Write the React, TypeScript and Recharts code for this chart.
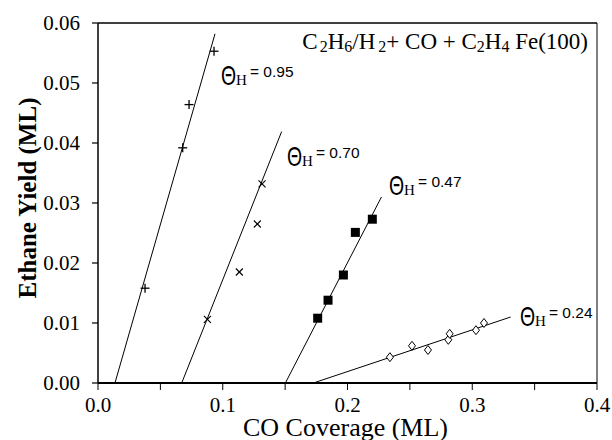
import React from 'react';
import { ScatterChart, Scatter, XAxis, YAxis, ReferenceLine, ReferenceDot, Label } from 'recharts';

// ---- data ----
const xTicks = [0, 0.05, 0.1, 0.15, 0.2, 0.25, 0.3, 0.35, 0.4];
const xTickLabels = ['0.0', '', '0.1', '', '0.2', '', '0.3', '', '0.4'];
const yTicks = [0, 0.01, 0.02, 0.03, 0.04, 0.05, 0.06];
const yTickLabels = ['0.00', '0.01', '0.02', '0.03', '0.04', '0.05', '0.06'];

const seriesNames = ['0.95', '0.70', '0.47', '0.24'];

const theta95X = [0.0377, 0.0679, 0.0730, 0.0930];
const theta95Y = [0.0158, 0.0392, 0.0464, 0.0553];
const fit95X = [0.0136, 0.0938];
const fit95Y = [0.0, 0.0582];

const theta70X = [0.0877, 0.1133, 0.1277, 0.1315];
const theta70Y = [0.0106, 0.0185, 0.0265, 0.0332];
const fit70X = [0.0671, 0.1472];
const fit70Y = [0.0, 0.0419];

const theta47X = [0.1761, 0.1844, 0.1967, 0.2063, 0.2199];
const theta47Y = [0.0108, 0.0138, 0.0180, 0.0251, 0.0273];
const fit47X = [0.1502, 0.2272];
const fit47Y = [0.0, 0.0310];

const theta24X = [0.2340, 0.2517, 0.2645, 0.2808, 0.2819, 0.3030, 0.3094];
const theta24Y = [0.0043, 0.0062, 0.0055, 0.0072, 0.0082, 0.0088, 0.0100];
const fit24X = [0.1726, 0.3308];
const fit24Y = [0.0, 0.0110];

// label anchors (data coords) for the theta labels and the title
const labelX = [0.0986, 0.1515, 0.2333, 0.3383];
const labelY = [0.0510, 0.0375, 0.0326, 0.0108];
const titleX = 0.3928;
const titleY = 0.0556;

const pts = (xs: number[], ys: number[]) => xs.map((x, i) => ({ x, y: ys[i] }));

const SERIF = '"Liberation Serif", "Times New Roman", Times, serif';
const SANS = '"Liberation Sans", Arial, sans-serif';

const Plus = (p: any) => (
  <g stroke="#000" strokeWidth={1.3}>
    <line x1={p.cx - 4.5} y1={p.cy} x2={p.cx + 4.5} y2={p.cy} />
    <line x1={p.cx} y1={p.cy - 4.5} x2={p.cx} y2={p.cy + 4.5} />
  </g>
);
const Cross = (p: any) => (
  <g stroke="#000" strokeWidth={1.1}>
    <line x1={p.cx - 3.5} y1={p.cy - 3.5} x2={p.cx + 3.5} y2={p.cy + 3.5} />
    <line x1={p.cx - 3.5} y1={p.cy + 3.5} x2={p.cx + 3.5} y2={p.cy - 3.5} />
  </g>
);
const Square = (p: any) => <rect x={p.cx - 4.5} y={p.cy - 4.5} width={9} height={9} fill="#000" />;
const Diamond = (p: any) => (
  <path
    d={`M${p.cx},${p.cy - 4.5} L${p.cx + 3.5},${p.cy} L${p.cx},${p.cy + 4.5} L${p.cx - 3.5},${p.cy} Z`}
    fill="#fff"
    stroke="#000"
    strokeWidth={1}
  />
);
const NoDot = () => <g />;

const ThetaLabel = (props: any) => {
  const { viewBox, text } = props;
  const x = viewBox.x;
  const y = viewBox.y;
  return (
    <g fill="#000">
      <text transform={`translate(${x},${y + 8}) scale(0.72,1)`} style={{ fontFamily: SANS }} fontSize={27}>
        Θ
      </text>
      <text x={x + 15} y={y + 8} style={{ fontFamily: SERIF }} fontSize={15}>
        H
      </text>
      <text x={x + 29} y={y} style={{ fontFamily: SANS }} fontSize={15.5}>
        {'= ' + text}
      </text>
    </g>
  );
};

const TitleLabel = (props: any) => {
  const { viewBox } = props;
  const s = 16;
  return (
    <text x={viewBox.x} y={viewBox.y} textAnchor="end" style={{ fontFamily: SERIF }} fontSize={23} fill="#000">
      C<tspan fontSize={s} dx={2} dy={3}>2</tspan>
      <tspan dy={-3}>H</tspan>
      <tspan fontSize={s} dy={3}>6</tspan>
      <tspan dy={-3}>/H</tspan>
      <tspan fontSize={s} dx={3} dy={3}>2</tspan>
      <tspan dy={-3}>{'+ CO + C'}</tspan>
      <tspan fontSize={s} dy={3}>2</tspan>
      <tspan dy={-3}>H</tspan>
      <tspan fontSize={s} dy={3}>4</tspan>
      <tspan dy={-3}>{' Fe(100)'}</tspan>
    </text>
  );
};

const XTick = (props: any) => {
  const { x, y, payload } = props;
  const i = xTicks.findIndex((t) => Math.abs(t - payload.value) < 1e-9);
  const label = i >= 0 ? xTickLabels[i] : '';
  return (
    <text x={x} y={y + 20} textAnchor="middle" style={{ fontFamily: SERIF, fontSize: 21 }} fill="#000">
      {label}
    </text>
  );
};

const YTick = (props: any) => {
  const { x, y, payload } = props;
  const i = yTicks.findIndex((t) => Math.abs(t - payload.value) < 1e-9);
  const label = i >= 0 ? yTickLabels[i] : '';
  return (
    <text x={x} y={y} dy="0.35em" textAnchor="end" style={{ fontFamily: SERIF, fontSize: 21 }} fill="#000">
      {label}
    </text>
  );
};

const XTitle = (props: any) => {
  const { viewBox } = props;
  return (
    <text
      x={viewBox.x + viewBox.width / 2 - 2}
      y={viewBox.y + 53}
      textAnchor="middle"
      style={{ fontFamily: SERIF, fontSize: 26 }}
      fill="#000"
    >
      CO Coverage (ML)
    </text>
  );
};

const YTitle = (props: any) => {
  const { viewBox } = props;
  const cx = viewBox.x - 2;
  const cy = viewBox.y + viewBox.height / 2 - 5;
  return (
    <text
      transform={`rotate(-90)`}
      x={-cy}
      y={cx}
      textAnchor="middle"
      style={{ fontFamily: SERIF, fontSize: 25, fontWeight: 'bold' }}
      fill="#000"
    >
      Ethane Yield (ML)
    </text>
  );
};

const markerShapes = [Plus, Cross, Square, Diamond];
const seriesData = [
  pts(theta95X, theta95Y),
  pts(theta70X, theta70Y),
  pts(theta47X, theta47Y),
  pts(theta24X, theta24Y),
];
const fitData = [pts(fit95X, fit95Y), pts(fit70X, fit70Y), pts(fit47X, fit47Y), pts(fit24X, fit24Y)];

export default function App() {
  return (
    <div style={{ position: 'absolute', left: 0, top: 0, width: 612, height: 440, background: '#fff' }}>
      <ScatterChart width={612} height={440} margin={{ top: 23, right: 15, bottom: 27, left: 38 }}>
        <XAxis
          type="number"
          dataKey="x"
          domain={[0, 0.4]}
          ticks={xTicks}
          interval={0}
          tickSize={7}
          tickMargin={2}
          height={30}
          axisLine={{ stroke: '#000', strokeWidth: 2 }}
          tickLine={{ stroke: '#000', strokeWidth: 1 }}
          tick={<XTick />}
        >
          <Label content={<XTitle />} />
        </XAxis>
        <YAxis
          type="number"
          dataKey="y"
          domain={[0, 0.06]}
          ticks={yTicks}
          interval={0}
          tickSize={6}
          tickMargin={12}
          width={60}
          axisLine={{ stroke: '#000', strokeWidth: 1.5 }}
          tickLine={{ stroke: '#000', strokeWidth: 1.2 }}
          tick={<YTick />}
        >
          <Label content={<YTitle />} />
        </YAxis>
        <ReferenceLine y={0.06} stroke="#000" strokeWidth={1.5} />
        <ReferenceLine x={0.4} stroke="#000" strokeWidth={1} />
        {fitData.map((d, i) => (
          <Scatter
            key={'fit' + i}
            data={d}
            line={{ stroke: '#000', strokeWidth: 1 }}
            shape={<NoDot />}
            isAnimationActive={false}
          />
        ))}
        {seriesData.map((d, i) => {
          const S = markerShapes[i];
          return (
            <Scatter
              key={'s' + i}
              name={seriesNames[i]}
              data={d}
              shape={(p: any) => <S {...p} />}
              isAnimationActive={false}
            />
          );
        })}
        {seriesNames.map((n, i) => (
          <ReferenceDot
            key={'lab' + i}
            x={labelX[i]}
            y={labelY[i]}
            r={0}
            fill="none"
            stroke="none"
            label={<ThetaLabel text={n} />}
          />
        ))}
        <ReferenceDot x={titleX} y={titleY} r={0} fill="none" stroke="none" label={<TitleLabel />} />
      </ScatterChart>
    </div>
  );
}
